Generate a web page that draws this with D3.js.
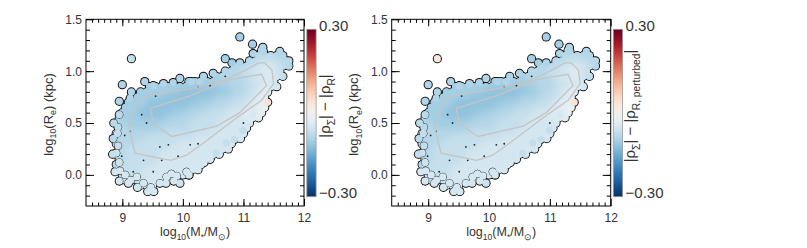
<!DOCTYPE html>
<html>
<head>
<meta charset="utf-8">
<script src="https://cdn.jsdelivr.net/npm/d3@7"></script>
<style>
  body { margin: 0; background: #fff; }
  svg text { font-family: "Liberation Sans", Arial, sans-serif; fill: #333; }
</style>
</head>
<body>
<svg width="807" height="248"></svg>
<script>
// mass bins (columns) of the binned size-mass plane
const massBins = [8.9, 9.0, 9.1, 9.2, 9.3, 9.4, 9.5, 9.6, 9.7, 9.8, 9.9, 10.0, 10.1, 10.2, 10.3,
                  10.4, 10.5, 10.6, 10.7, 10.8, 10.9, 11.0, 11.1, 11.2, 11.3, 11.4, 11.5, 11.6, 11.7, 11.8];
// one row per size bin: first occupied column and the code of each occupied cell
// code n -> |rho_Sigma| - |rho_R| = -0.017 * n
const rowSize  = [1.20, 1.15, 1.10, 1.05, 1.00, 0.95, 0.90, 0.85, 0.80, 0.75, 0.70, 0.65, 0.60, 0.55,
                  0.50, 0.45, 0.40, 0.35, 0.30, 0.25, 0.20, 0.15, 0.10, 0.05, 0.00, -0.05, -0.10];
const rowStart = [24, 23, 22, 19, 18, 16, 12, 5, 4, 3, 2, 1, 1, 0,
                  0, 0, 0, 0, 0, 0, 0, 0, 0, 0, 1, 1, 4];
const rowCodes = [
  "5",
  "55555",
  "5544455",
  "5554433345",
  "5554433234",
  "655554433234",
  "666666555543323",
  "6666666666666655544323",
  "6666666777777766554322",
  "6666677777777666554432",
  "66667777777766655544321",
  "666677777776665554443321",
  "666777777666555444333221",
  "566677776665554444333222",
  "56666666655554444333333",
  "5566666555554444433333",
  "5555555554444444333333",
  "555554444444433333333",
  "55554444444333333333",
  "5544444443333333333",
  "554444443333333333",
  "5544444333333333",
  "544444433333333",
  "54444333333333",
  "444433333333",
  "444333333",
  "333"
];
// single galaxies / edge bumps: [log M*, log Re, diff left panel, diff right panel]
const bumps = [
  // lower-left fringe
  [8.95, 0.58, -0.08, -0.08], [8.93, 0.46, -0.08, -0.08], [8.92, 0.40, -0.07, -0.07],
  [8.93, 0.28, -0.07, -0.07], [8.90, 0.21, -0.06, -0.06], [8.95, 0.12, -0.06, -0.06],
  [8.96, 0.04, -0.05, -0.05], [9.05, 0.00, -0.05, -0.05], [9.14, -0.05, -0.05, -0.05],
  [9.24, -0.02, -0.05, -0.05], [9.35, -0.08, -0.05, -0.05], [9.47, -0.12, -0.05, -0.05],
  [9.62, -0.08, -0.05, -0.05], [9.73, -0.02, -0.05, -0.05], [9.81, 0.01, -0.05, -0.05],
  [9.90, -0.01, -0.05, -0.05], [10.06, 0.03, -0.05, -0.05], [10.25, 0.11, -0.05, -0.05],
  [10.34, 0.15, -0.05, -0.05], [8.88, 0.03, -0.05, -0.05], [8.95, -0.06, -0.05, -0.05],
  [9.10, -0.08, -0.05, -0.05], [9.25, -0.12, -0.05, -0.05], [9.42, -0.16, -0.05, -0.05],
  [9.52, -0.16, -0.05, -0.05], [9.72, -0.08, -0.05, -0.05], [9.85, -0.06, -0.05, -0.05],
  [9.95, -0.08, -0.06, -0.06], [10.10, 0.00, -0.05, -0.05], [10.17, 0.06, -0.05, -0.05],
  [10.35, 0.12, -0.05, -0.05], [8.85, 0.35, -0.08, -0.08], [8.84, 0.20, -0.07, -0.07],
  [8.86, 0.50, -0.08, -0.08],
  // lower-right fringe
  [10.55, 0.21, -0.07, -0.07], [10.72, 0.31, -0.07, -0.07], [10.85, 0.34, -0.07, -0.07],
  [10.99, 0.43, -0.07, -0.07], [11.16, 0.58, -0.05, -0.05], [11.44, 0.88, -0.05, -0.05],
  [11.40, 0.70, 0.04, 0.04],
  // upper fringe and isolated galaxies
  [9.15, 1.12, -0.07, 0.03], [9.00, 0.87, -0.09, -0.09], [8.95, 0.71, -0.09, -0.09],
  [9.13, 0.74, -0.09, -0.09], [9.15, 0.80, -0.09, -0.09], [9.37, 0.90, -0.09, -0.09],
  [9.51, 0.86, -0.09, -0.09], [9.68, 0.88, -0.09, -0.09], [9.84, 0.89, -0.09, -0.09],
  [9.95, 0.93, -0.09, -0.09], [10.14, 0.90, -0.09, -0.09], [10.28, 0.90, -0.09, -0.09],
  [10.34, 0.95, -0.09, -0.09], [10.50, 0.98, -0.09, -0.09], [10.70, 1.12, -0.10, -0.10],
  [10.81, 1.08, -0.10, -0.10], [10.94, 1.08, -0.09, -0.09], [10.94, 1.33, -0.10, -0.10],
  [11.15, 1.26, -0.10, -0.10], [11.16, 1.17, -0.09, -0.09], [11.33, 1.19, -0.09, -0.09],
  [11.32, 1.23, -0.09, -0.09], [11.60, 1.19, -0.09, -0.09], [11.75, 1.10, -0.08, -0.08]
];
// little dark gaps between the points
const specks = [
  [9.32, 0.58], [9.13, 0.42], [9.04, 0.38], [9.62, 0.27], [9.76, 0.29], [9.35, 0.14],
  [9.65, 0.14], [10.12, 0.29], [10.25, 0.30], [9.18, 0.03], [9.51, 0.03], [9.92, 0.18],
  [8.99, 0.18], [10.25, 0.85], [10.45, 0.86], [9.55, 0.76], [10.70, 0.95], [11.00, 0.50], [9.40, 0.50]
];
// density contours
const outerContour = [[9.10, 0.48], [9.25, 0.71], [9.45, 0.77], [9.80, 0.80], [10.12, 0.83], [10.67, 0.91],
  [11.00, 1.00], [11.25, 1.08], [11.35, 1.08], [11.47, 1.01], [11.50, 0.88], [11.30, 0.72],
  [10.89, 0.55], [10.39, 0.33], [10.06, 0.19], [9.80, 0.14], [9.21, 0.21]];
const innerContour = [[9.46, 0.64], [9.52, 0.49], [9.82, 0.37], [10.56, 0.47], [10.94, 0.60],
  [11.38, 0.86], [11.30, 0.97], [10.80, 0.92], [10.10, 0.76]];

const massTicks = [9, 10, 11, 12];
const sizeTicks = [0.0, 0.5, 1.0, 1.5];
const barTicks = [0.30, -0.30];

const svg = d3.select("svg");
const plotTop = 19.3, plotBottom = 206;
const colour = d3.scaleSequential(d3.interpolateRdBu).domain([0.3, -0.3]);

const defs = svg.append("defs");
const grad = defs.append("linearGradient")
  .attr("id", "rdbu").attr("x1", 0).attr("x2", 0).attr("y1", 0).attr("y2", 1);
d3.range(0, 1.0001, 0.05).forEach(t =>
  grad.append("stop").attr("offset", t).attr("stop-color", d3.interpolateRdBu(t)));
defs.append("filter").attr("id", "soft").attr("x", "-10%").attr("y", "-10%")
  .attr("width", "120%").attr("height", "120%")
  .append("feGaussianBlur").attr("stdDeviation", 3);

// cells of the raster -> points
const cells = [];
rowCodes.forEach((codes, i) => {
  [...codes].forEach((ch, j) => {
    cells.push({m: massBins[rowStart[i] + j] + (i % 2 ? 0.05 : 0), s: rowSize[i], d: -0.017 * (+ch)});
  });
});

// write text with subscripts
function rich(t, parts, size) {
  let shift = 0;
  parts.forEach(([txt, sub]) => {
    const want = sub ? size * 0.3 : 0;
    const ts = t.append("tspan").text(txt).attr("dy", want - shift);
    if (sub) ts.attr("font-size", size * 0.68);
    shift = want;
  });
}

const panels = [
  {left: 86, right: 304, cbX: 306.8, yTitleX: 52.5, cbTitleX: 330, sub: "R"},
  {left: 391.7, right: 610.7, cbX: 613.3, yTitleX: 358, cbTitleX: 635, sub: "R, perturbed"}
];

panels.forEach((p, k) => {
  const g = svg.append("g");
  const x = d3.scaleLinear().domain([8.4, 12]).range([p.left, p.right]);
  const y = d3.scaleLinear().domain([-0.3, 1.5]).range([plotBottom, plotTop]);

  const edge = bumps.map(b => ({m: b[0], s: b[1], d: b[k + 2]}));
  const pts = cells.concat(edge);
  const discs = data => sel => sel.selectAll("circle").data(data).join("circle")
    .attr("cx", d => x(d.m)).attr("cy", d => y(d.s));

  // union of the discs, used to keep the smoothed colours inside the cloud
  defs.append("clipPath").attr("id", "cloud" + k).call(discs(cells)).selectAll("circle").attr("r", 3.6);

  // black rims first, then coloured discs on top -> outline of the cloud
  g.append("g").call(discs(pts)).selectAll("circle").attr("r", 4.6).attr("fill", "#111");
  g.append("g").call(discs(cells)).selectAll("circle").attr("r", 3.6).attr("fill", d => colour(d.d));
  g.append("g").attr("clip-path", `url(#cloud${k})`)
    .append("g").attr("filter", "url(#soft)")
    .call(discs(cells)).selectAll("circle").attr("r", 4.5).attr("fill", d => colour(d.d));
  // hanging galaxies of the lower fringe keep their own outline
  const hanging = edge.filter(d => d.s < 0.06 || d.m < 8.97);
  g.append("g").call(discs(hanging)).selectAll("circle").attr("r", 3.7)
    .attr("fill", d => colour(d.d)).attr("stroke", "#111").attr("stroke-width", 0.9);
  g.append("g").call(discs(edge)).selectAll("circle").attr("r", 3.6).attr("fill", d => colour(d.d));
  g.append("g").selectAll("circle").data(specks).join("circle")
    .attr("cx", d => x(d[0])).attr("cy", d => y(d[1])).attr("r", 0.9).attr("fill", "#222");

  const line = d3.line().x(d => x(d[0])).y(d => y(d[1])).curve(d3.curveLinearClosed);
  [outerContour, innerContour].forEach(c =>
    g.append("path").attr("d", line(c)).attr("fill", "none")
      .attr("stroke", "#c4c4c4").attr("stroke-width", 1.3));

  g.append("rect").attr("x", p.left).attr("y", plotTop)
    .attr("width", p.right - p.left).attr("height", plotBottom - plotTop)
    .attr("fill", "none").attr("stroke", "#000").attr("stroke-width", 1);

  const style = a => a.call(s => s.select(".domain").remove())
    .attr("font-family", "Liberation Sans, Arial, sans-serif").attr("font-size", 12)
    .call(s => s.selectAll("text").attr("fill", "#333"))
    .call(s => s.selectAll("line").attr("stroke", "#000"));

  const minorMass = d3.range(8.5, 12, 0.1);
  const minorSize = d3.range(-0.2, 1.5, 0.1);

  g.append("g").attr("transform", `translate(0,${plotBottom})`)
    .call(d3.axisBottom(x).tickValues(massTicks).tickSizeInner(-7).tickSizeOuter(0).tickPadding(7).tickFormat(d3.format("d")))
    .call(style);
  g.append("g").attr("transform", `translate(0,${plotBottom})`)
    .call(d3.axisBottom(x).tickValues(minorMass).tickSize(-3.5).tickFormat("")).call(style);
  g.append("g").attr("transform", `translate(0,${plotTop})`)
    .call(d3.axisTop(x).tickValues(massTicks).tickSize(-7).tickFormat("")).call(style);
  g.append("g").attr("transform", `translate(0,${plotTop})`)
    .call(d3.axisTop(x).tickValues(minorMass).tickSize(-3.5).tickFormat("")).call(style);

  g.append("g").attr("transform", `translate(${p.left},0)`)
    .call(d3.axisLeft(y).tickValues(sizeTicks).tickSizeInner(-8).tickSizeOuter(0).tickPadding(4).tickFormat(d3.format(".1f")))
    .call(style);
  g.append("g").attr("transform", `translate(${p.left},0)`)
    .call(d3.axisLeft(y).tickValues(minorSize).tickSize(-4).tickFormat("")).call(style);
  g.append("g").attr("transform", `translate(${p.right},0)`)
    .call(d3.axisRight(y).tickValues(sizeTicks).tickSize(-8).tickFormat("")).call(style);
  g.append("g").attr("transform", `translate(${p.right},0)`)
    .call(d3.axisRight(y).tickValues(minorSize).tickSize(-4).tickFormat("")).call(style);

  // axis titles
  const xt = g.append("text").attr("x", (p.left + p.right) / 2).attr("y", 236)
    .attr("text-anchor", "middle").attr("font-size", 12.5);
  rich(xt, [["log"], ["10", 1], ["(M"], ["*", 1], ["/M"], ["\u2299", 1], [")"]], 12.5);

  const yt = g.append("text").attr("transform", `translate(${p.yTitleX},114.5) rotate(-90)`)
    .attr("text-anchor", "middle").attr("font-size", 13);
  rich(yt, [["log"], ["10", 1], ["(R"], ["e", 1], [") (kpc)"]], 13);

  // colour bar
  const cbTop = 29.3, cbBottom = 196.7, cbW = 9.3;
  const cb = d3.scaleLinear().domain([-0.3, 0.3]).range([cbBottom, cbTop]);
  g.append("rect").attr("x", p.cbX).attr("y", cbTop).attr("width", cbW)
    .attr("height", cbBottom - cbTop).attr("fill", "url(#rdbu)")
    .attr("stroke", "#999").attr("stroke-width", 0.8);
  g.selectAll("text.cbt").data(barTicks).join("text").attr("class", "cbt")
    .attr("x", p.cbX + cbW + 3).attr("y", d => cb(d) + 1.2)
    .attr("font-size", 15).text(d => d3.format(".2f")(d).replace("-", "\u2212"));

  const ct = g.append("text").attr("transform", `translate(${p.cbTitleX},106) rotate(-90)`)
    .attr("text-anchor", "middle").attr("font-size", 15);
  rich(ct, [["|\u03C1"], ["\u03A3", 1], ["| \u2212 |\u03C1"], [p.sub, 1], ["|"]], 15);
});
</script>
</body>
</html>
